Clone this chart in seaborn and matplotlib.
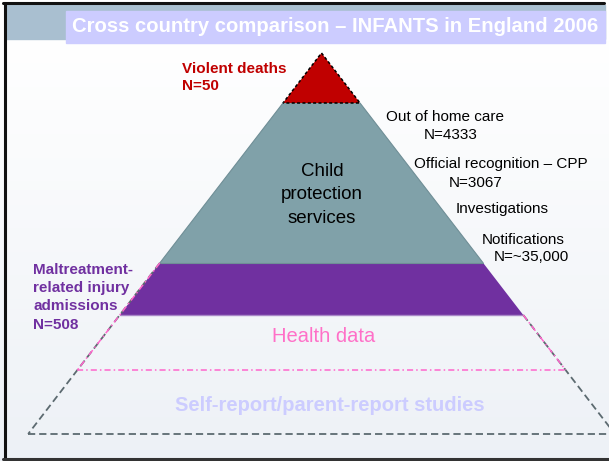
"""Pyramid of child maltreatment data sources - infants in England 2006."""
import numpy as np
import matplotlib.pyplot as plt
import seaborn as sns
from matplotlib.patches import Polygon, Rectangle

# tiers of the pyramid, top to bottom
tier_names = ["Violent deaths", "Child protection services",
              "Maltreatment-related injury admissions", "Health data",
              "Self-report/parent-report studies"]
tier_counts = ["N=50", "", "N=508", "", ""]
tier_depth = [0, 50, 210, 262, 317, 381]  # boundaries, px below apex
tier_colors = ["#c00000", "#80a1a9", "#7030a0", None, None]

# child protection steps shown on the right
cps_steps = ["Out of home care", "Official recognition – CPP", "Investigations", "Notifications"]
cps_counts = ["N=4333", "N=3067", "", "N=~35,000"]

title = "Cross country comparison – INFANTS in England 2006"

APEX = (321.5, 53)
SLOPE = 0.77


def edge(d):
    hw = SLOPE * d
    return APEX[0] - hw, APEX[0] + hw, APEX[1] + d


def band(d0, d1):
    l0, r0, y0 = edge(d0)
    l1, r1, y1 = edge(d1)
    return [(l0, y0), (r0, y0), (r1, y1), (l1, y1)]


sns.set_theme(style="white")
plt.rcParams["font.family"] = ["Liberation Sans", "DejaVu Sans"]

fig = plt.figure(figsize=(6.09, 4.61), dpi=100)
ax = fig.add_axes([0, 0, 1, 1])
ax.set_xlim(0, 609)
ax.set_ylim(461, 0)
ax.axis("off")

# slide background: white to pale blue-grey
grad = np.linspace(0, 1, 256)[:, None]
bg = np.array([1.0, 1.0, 1.0]) * (1 - grad[..., None]) + np.array([0.93, 0.945, 0.965]) * grad[..., None]
ax.imshow(bg, extent=(0, 609, 461, 40), aspect="auto", zorder=0)
ax.add_patch(Rectangle((0, 0), 609, 40, color="white", zorder=0))
ax.add_patch(Rectangle((5, 5), 600, 34, color="#a9bfd0", zorder=1))
ax.add_patch(Rectangle((66, 11), 539, 32, color="#ccccff", zorder=2))
ax.text(72, 27, title, color="white", fontsize=14.6, fontweight="bold",
        va="center", ha="left", zorder=3)

# frame
ax.plot([4.5, 4.5], [3, 459], color="#111111", lw=2.2, zorder=5)
ax.plot([3, 604], [3.5, 3.5], color="#111111", lw=2.2, zorder=5)
ax.plot([3, 609], [459, 459], color="#333333", lw=2.2, zorder=5)

# filled tiers
for i in range(3):
    pts = band(tier_depth[i], tier_depth[i + 1])
    if i == 0:
        pts = pts[1:]  # triangle
    ax.add_patch(Polygon(pts, closed=True, facecolor=tier_colors[i],
                         edgecolor="none", zorder=3))

# outlines
red_pts = band(tier_depth[0], tier_depth[1])[1:]
xs = [p[0] for p in red_pts] + [red_pts[0][0]]
ys = [p[1] for p in red_pts] + [red_pts[0][1]]
ax.plot(xs, ys, color="black", lw=1.1, dashes=(2, 1.5), zorder=4)
l, r, y = edge(tier_depth[1])
l2, r2, y2 = edge(tier_depth[2])
ax.plot([l, l2], [y, y2], color="#6f8e96", lw=0.8, zorder=4)
ax.plot([r, r2], [y, y2], color="#6f8e96", lw=0.8, zorder=4)
ax.plot([l2, r2], [y2, y2], color="#6f8e96", lw=0.8, zorder=4)
l3, r3, y3 = edge(tier_depth[3])
ax.plot([l3, r3], [y3, y3], color="#a987c8", lw=1.0, zorder=4)

gray = "#5c6a70"
pink = "#ff66cc"
lb, rb, yb = edge(tier_depth[5])
l4, r4, y4 = edge(tier_depth[4])
ax.plot([l2, lb], [y2, yb], color=gray, lw=1.3, dashes=(4, 2.2), zorder=4)
ax.plot([r3, rb], [y3, yb], color=gray, lw=1.3, dashes=(4, 2.2), zorder=4)
ax.plot([lb, 609], [yb, yb], color=gray, lw=1.3, dashes=(4, 2.2), zorder=4)
ax.plot([l2, l4], [y2, y4], color=pink, lw=1.1, dashes=(4, 2, 1, 2), zorder=4)
ax.plot([r3, r4], [y3, y4], color=pink, lw=1.1, dashes=(4, 2, 1, 2), zorder=4)
ax.plot([l4, r4], [y4, y4], color=pink, lw=1.1, dashes=(4, 2, 1, 2), zorder=4)

# tier labels
ax.text(182, 69, tier_names[0], color="#c00000", fontsize=11, fontweight="bold", va="center")
ax.text(182, 86, tier_counts[0], color="#c00000", fontsize=11, fontweight="bold", va="center")

for k, w in enumerate(["Child", "protection", "services"]):
    ax.text(322, 171 + 23.5 * k, w, color="black", fontsize=13.5, ha="center", va="center", zorder=5)

mal_lines = ["Maltreatment-", "related injury", "admissions", tier_counts[2]]
for k, w in enumerate(mal_lines):
    ax.text(33, 270 + 18.2 * k, w, color="#7030a0", fontsize=11, fontweight="bold", va="center")

ax.text(324, 336, tier_names[3], color="#ff70c8", fontsize=14.5, ha="center", va="center")
ax.text(330, 405, tier_names[4], color="#ccccff", fontsize=14.5, fontweight="bold",
        ha="center", va="center")

# child protection steps
step_pos = [(386, 117), (414, 164), (456, 209), (482, 240)]
count_pos = [(424, 135), (449, 183), None, (494, 257)]
for s, c, sp, cp in zip(cps_steps, cps_counts, step_pos, count_pos):
    ax.text(sp[0], sp[1], s, color="black", fontsize=11, va="center")
    if c:
        ax.text(cp[0], cp[1], c, color="black", fontsize=11, va="center")

fig.savefig("out.png", dpi=100)
plt.close(fig)
